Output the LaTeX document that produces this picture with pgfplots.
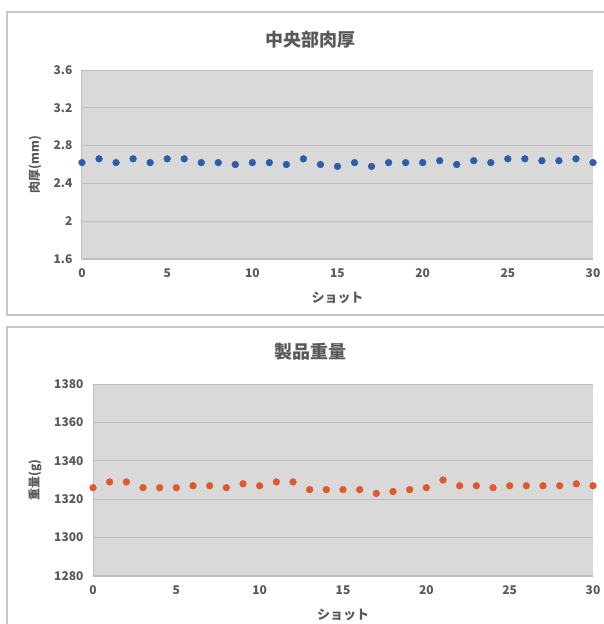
\documentclass[border=0pt]{standalone}
\usepackage{fontspec}
\setmainfont{Noto Sans CJK JP}
\usepackage{pgfplots}
\pgfplotsset{compat=1.18}
\definecolor{bgc}{RGB}{217,217,217}
\definecolor{gridc}{RGB}{190,190,190}
\definecolor{txt}{RGB}{89,89,89}
\definecolor{blu}{RGB}{46,92,170}
\definecolor{org}{RGB}{222,90,44}
\definecolor{framec}{RGB}{200,200,200}
\begin{document}
\begin{tikzpicture}
\useasboundingbox (0pt,0pt) rectangle (604pt,624pt);
\draw[framec, line width=1.2pt] (7pt,612pt) rectangle (640pt,309pt);
\draw[framec, line width=1.2pt] (7pt,297pt) rectangle (640pt,-20pt);
\pgfplotsset{
  common/.style={
    scale only axis,
    axis lines=left,
    axis line style={-, draw=gridc, line width=1pt},
    axis background/.style={fill=bgc},
    major tick length=0pt,
    ymajorgrids,
    grid style={gridc, line width=0.9pt},
    xmin=0, xmax=30, xtick={0,5,...,30},
    tick label style={font=\fontsize{12}{14}\selectfont\bfseries, text=txt},
    /pgf/number format/assume math mode=true,
    /pgf/number format/set thousands separator={},
    ylabel style={font=\fontsize{12}{14}\selectfont\bfseries, text=txt},
    xlabel style={font=\fontsize{13}{15}\selectfont\bfseries, text=txt},
    xlabel={ショット},
    clip=false,
  }
}
\node[font=\fontsize{18}{20}\selectfont\bfseries, text=txt] at (310pt,584pt) {中央部肉厚};
\begin{axis}[common,
  at={(82pt,365pt)}, anchor=south west, width=511pt, height=189pt,
  ymin=1.6, ymax=3.6, ytick={1.6,2,2.4,2.8,3.2,3.6},
  yticklabel style={/pgf/number format/fixed, /pgf/number format/precision=1, xshift=-6pt},
  xticklabel style={yshift=-6pt},
  ylabel={肉厚(mm)},
  ylabel style={at={(axis description cs:-0.092,0.5)}, anchor=center},
  xlabel style={at={(axis description cs:0.5,-0.206)}, anchor=center},
]
\addplot[only marks, mark=*, mark size=3.4pt, mark options={draw=blu, fill=blu}] coordinates {
(0,2.62)(1,2.66)(2,2.62)(3,2.66)(4,2.62)(5,2.66)(6,2.66)(7,2.62)(8,2.62)(9,2.60)
(10,2.62)(11,2.62)(12,2.60)(13,2.66)(14,2.60)(15,2.58)(16,2.62)(17,2.58)(18,2.62)(19,2.62)
(20,2.62)(21,2.64)(22,2.60)(23,2.64)(24,2.62)(25,2.66)(26,2.66)(27,2.64)(28,2.64)(29,2.66)(30,2.62)
};
\end{axis}
\node[font=\fontsize{18}{20}\selectfont\bfseries, text=txt] at (310pt,272pt) {製品重量};
\begin{axis}[common,
  at={(93pt,48pt)}, anchor=south west, width=500pt, height=192pt,
  ymin=1280, ymax=1380, ytick={1280,1300,...,1380},
  yticklabel style={xshift=-6pt},
  xticklabel style={yshift=-6pt},
  ylabel={重量(g)},
  ylabel style={at={(axis description cs:-0.116,0.5)}, anchor=center},
  xlabel style={at={(axis description cs:0.5,-0.203)}, anchor=center},
]
\addplot[only marks, mark=*, mark size=3.4pt, mark options={draw=org, fill=org}] coordinates {
(0,1326)(1,1329)(2,1329)(3,1326)(4,1326)(5,1326)(6,1327)(7,1327)(8,1326)(9,1328)
(10,1327)(11,1329)(12,1329)(13,1325)(14,1325)(15,1325)(16,1325)(17,1323)(18,1324)(19,1325)
(20,1326)(21,1330)(22,1327)(23,1327)(24,1326)(25,1327)(26,1327)(27,1327)(28,1327)(29,1328)(30,1327)
};
\end{axis}
\end{tikzpicture}
\end{document}
